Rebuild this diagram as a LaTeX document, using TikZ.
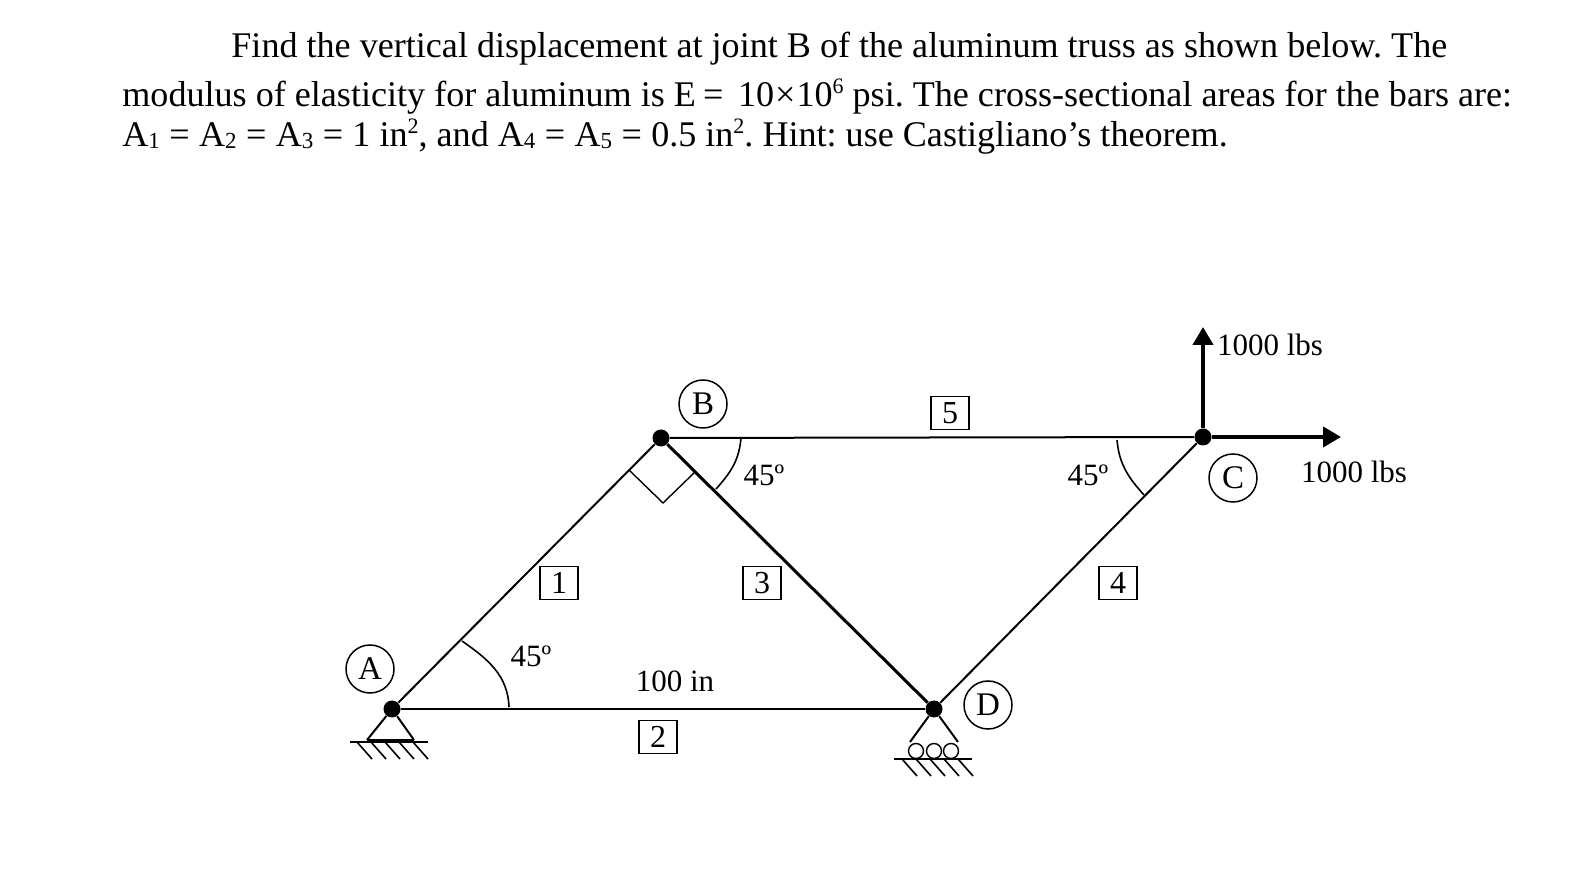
\documentclass[tikz,border=0pt]{standalone}
\usepackage{fontspec}
\setmainfont{Liberation Serif}
\usetikzlibrary{arrows.meta}
\frenchspacing
\newcommand{\lowsub}[1]{\raisebox{-0.12ex}{\fontsize{11.5}{11.5}\selectfont #1}}
\newcommand{\highsup}[1]{\raisebox{0.8ex}{\fontsize{11}{11}\selectfont #1}}
\newcommand{\eqsign}{\hspace{0.26em}=\hspace{0.26em}}
\tikzset{
  joint/.style = {circle, fill=black, inner sep=0pt, minimum size=8.5pt},
  letter/.style = {circle, draw=black, line width=0.75pt, inner sep=0pt, minimum size=24pt, font=\fontsize{16.5}{16.5}\selectfont},
  barbox/.style = {rectangle, draw=black, line width=0.8pt, inner sep=0pt, minimum width=19pt, minimum height=16.5pt, font=\fontsize{16}{16}\selectfont},
  label/.style = {inner sep=0pt, font=\fontsize{15.5}{15.5}\selectfont},
  headline/.style = {inner sep=0pt, anchor=base west, font=\fontsize{18.05}{18.05}\selectfont},
  bar/.style = {black, line width=1pt},
  force/.style = {black, line width=2.1pt, -{Triangle[length=9pt,width=10pt]}}
}
\begin{document}
\begin{tikzpicture}[x=0.5pt, y=-0.5pt]
    \useasboundingbox (0,0) rectangle (1574,870);
    % problem text
    \node[headline] (lineone) at (231,58) {Find the vertical displacement at joint B of the aluminum truss as shown below. The};
    \node[headline] (linetwo) at (122,107) {modulus of elasticity for aluminum is E\hspace{0.2em}=\hspace{0.4em}10\hspace{0.03em}×\hspace{0.03em}10\highsup{6} psi. The cross-sectional areas for the bars are:};
    \node[headline] (linethree) at (122,147) {A\lowsub{1}\eqsign A\lowsub{2}\eqsign A\lowsub{3}\eqsign 1 in\highsup{2}, and A\lowsub{4}\eqsign A\lowsub{5}\eqsign 0.5 in\highsup{2}. Hint: use Castigliano’s theorem.};

    % joints
    \node[joint] (A) at (392,709) {};
    \node[joint] (B) at (661,438) {};
    \node[joint] (C) at (1203,437) {};
    \node[joint] (D) at (934,709) {};

    % bars
    \draw[bar] (A) -- (B);
    \draw[bar] (A) -- (D);
    \draw[black, line width=1.5pt] (B) -- (D);
    \draw[bar] (D) -- (C);
    \draw[bar] (B) -- (C);

    % loads
    \coordinate (uptip) at (1203,327);
    \coordinate (righttip) at (1341,437);
    \draw[force] (C) -- (uptip);
    \draw[force] (C) -- (righttip);
    \node[label] (upload) at (1270,345) {1000 lbs};
    \node[label] (rightload) at (1354,472) {1000 lbs};

    % joint letters
    \node[letter] (labelA) at (370,669) {A};
    \node[letter] (labelB) at (703,404) {B};
    \node[letter] (labelC) at (1233,478) {C};
    \node[letter] (labelD) at (988,705) {D};

    % bar numbers
    \node[barbox] (bar1) at (559,583) {1};
    \node[barbox] (bar2) at (658,737) {2};
    \node[barbox] (bar3) at (762,583) {3};
    \node[barbox] (bar4) at (1118,583) {4};
    \node[barbox] (bar5) at (950,413) {5};
    \node[label] (span) at (675,681) {100 in};

    % angles
    \draw[black, line width=0.8pt] (462,641) to[out=-35, in=92] (509,707);
    \draw[black, line width=0.8pt] (741,438) to[out=-95, in=48] (716,489);
    \draw[black, line width=0.8pt] (1117,440) to[out=-85, in=132] (1144,495);
    \draw[black, line width=0.7pt] (629,470) -- (663,503) -- (695,472);
    \node[label] (angleA) at (531,656) {45º};
    \node[label] (angleB) at (764,475) {45º};
    \node[label] (angleC) at (1088,475) {45º};

    % pinned support at A
    \coordinate (pinL) at (367,740);
    \coordinate (pinR) at (414,740);
    \draw[bar] (pinL) -- (A) -- (pinR);
    \draw[black, line width=1.2pt] (pinL) -- (pinR);
    \draw[black, line width=0.8pt] (350,742) -- (428,742);
    \foreach \x in {357,371,385,399,413}
        \draw[black, line width=0.8pt] (\x,742) -- ++(15,17);

    % roller support at D
    \coordinate (rollL) at (910,742);
    \coordinate (rollR) at (958,742);
    \draw[bar] (rollL) -- (D) -- (rollR) -- cycle;
    \foreach \x in {916,934,951}
        \draw[black, line width=0.7pt] (\x,751) circle (7.5);
    \draw[black, line width=0.8pt] (894,759) -- (972,759);
    \foreach \x in {902,916,930,944,958}
        \draw[black, line width=0.8pt] (\x,759) -- ++(15,17);
\end{tikzpicture}
\end{document}
